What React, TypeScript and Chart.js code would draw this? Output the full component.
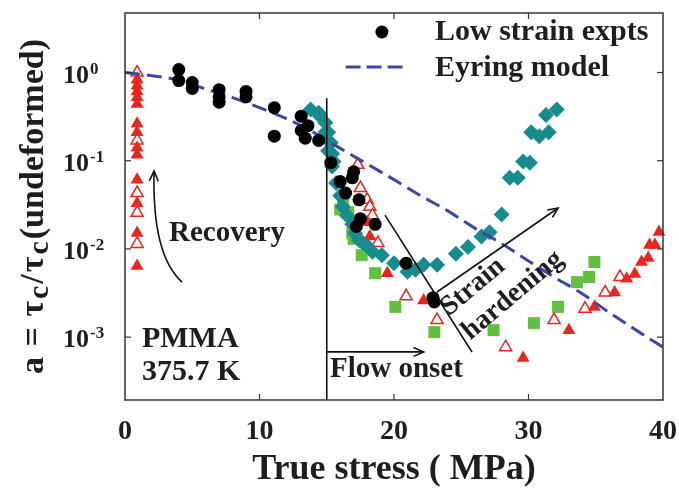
import React, { useEffect, useRef } from "react";
import { Chart, registerables } from "chart.js";

Chart.register(...registerables);

const FONT = "'Liberation Serif', 'Times New Roman', serif";
const INK = "#1e1e1e";
const RED = "#e8261f";
const TEAL = "#168c8c";
const GREEN = "#62c040";
const BLUE = "#3a46a8";

const xTickValues = [0, 10, 20, 30, 40];
const yDecades = [-3, -2, -1, 0];
const X_MIN = 0;
const X_MAX = 40;
const Y_MIN = Math.pow(10, -3.713);
const Y_MAX = Math.pow(10, 0.675);

// Low strain experiments (black circles)
const lowStrain: number[][] = [
  [4.0, 1.08], [4.0, 0.81], [5.0, 0.77], [5.0, 0.66], [7.0, 0.64], [7.0, 0.53], [7.0, 0.46],
  [9.0, 0.61], [9.0, 0.53], [11.1, 0.40], [11.1, 0.19], [13.1, 0.32], [13.6, 0.25], [13.1, 0.22],
  [13.4, 0.18], [14.4, 0.17], [15.3, 0.095], [16.0, 0.058], [17.0, 0.075], [16.9, 0.064],
  [16.4, 0.043], [17.4, 0.036], [17.5, 0.022], [17.2, 0.018], [18.6, 0.019], [20.9, 0.0069],
  [22.9, 0.0028], [23.0, 0.0025],
];

// Eyring model (dashed line)
const eyringX = [0, 2, 4, 6, 8, 10, 12, 14, 16, 18, 20, 22, 24, 26, 28, 30, 32, 34, 36, 38, 40];
const eyringY = [1.0, 0.92, 0.82, 0.65, 0.52, 0.40, 0.30, 0.21, 0.138, 0.092, 0.061, 0.040, 0.027,
  0.0172, 0.0115, 0.0073, 0.0047, 0.0031, 0.0019, 0.0012, 0.00077];

// Teal diamonds
const tealPts: number[][] = [
  [13.8, 0.38], [14.4, 0.35], [14.5, 0.32], [14.9, 0.27], [14.9, 0.21], [15.1, 0.21], [15.1, 0.13],
  [15.3, 0.16], [15.4, 0.12], [15.4, 0.086], [15.5, 0.098], [15.7, 0.056], [16.0, 0.040],
  [16.2, 0.030], [16.5, 0.024], [16.9, 0.019], [17.1, 0.015], [17.4, 0.0126], [17.7, 0.0117],
  [18.1, 0.0105], [18.4, 0.0093], [19.1, 0.0085], [20.0, 0.0069], [21.0, 0.0055], [21.6, 0.0058],
  [22.2, 0.0066], [23.2, 0.0066], [24.6, 0.0088], [25.5, 0.0105], [26.5, 0.0138], [27.1, 0.0155],
  [28.0, 0.0245], [28.6, 0.064], [29.2, 0.064], [29.6, 0.098], [30.1, 0.095], [30.2, 0.21],
  [30.8, 0.19], [31.5, 0.21], [31.3, 0.33], [32.1, 0.38],
];

// Green squares
const greenPts: number[][] = [
  [16.0, 0.028], [16.2, 0.033], [16.6, 0.026], [16.9, 0.015], [17.0, 0.013], [17.6, 0.0085],
  [18.6, 0.0053], [20.1, 0.0022], [23.0, 0.00114], [27.4, 0.0012], [30.4, 0.00144], [32.2, 0.0022],
  [33.6, 0.0042], [34.5, 0.0048], [34.9, 0.0071],
];

// Red filled triangles
const redFilledPts: number[][] = [
  [0.9, 0.83], [0.9, 0.71], [0.9, 0.61], [0.9, 0.52], [0.9, 0.44], [0.9, 0.263], [0.9, 0.21],
  [0.9, 0.14], [0.9, 0.117], [0.9, 0.061], [0.9, 0.033], [0.9, 0.0152], [0.9, 0.0064],
  [18.0, 0.020], [18.2, 0.0138], [19.5, 0.0053], [22.2, 0.0026], [29.6, 0.00058], [33.0, 0.0012],
  [34.9, 0.0022], [36.4, 0.0032], [37.3, 0.0046], [37.9, 0.0052], [38.4, 0.0071], [38.9, 0.0079],
  [39.0, 0.0111], [39.4, 0.0111], [39.7, 0.0156],
];

// Red open triangles
const redOpenPts: number[][] = [
  [0.9, 1.0], [0.9, 0.17], [0.9, 0.043], [0.9, 0.0257], [0.9, 0.0114], [17.3, 0.090], [17.5, 0.049],
  [18.0, 0.036], [18.2, 0.030], [18.4, 0.024], [18.8, 0.0117], [20.9, 0.0029], [23.2, 0.00156],
  [28.3, 0.00077], [31.9, 0.00156], [34.2, 0.0021], [35.7, 0.0032], [36.8, 0.0048],
];

const toXY = (pts: number[][]) => pts.map(([x, y]) => ({ x, y }));

function line(ctx: CanvasRenderingContext2D, x0: number, y0: number, x1: number, y1: number) {
  ctx.beginPath();
  ctx.moveTo(x0, y0);
  ctx.lineTo(x1, y1);
  ctx.stroke();
}

function arrowHead(ctx: CanvasRenderingContext2D, x0: number, y0: number, x1: number, y1: number) {
  const ang = Math.atan2(y1 - y0, x1 - x0);
  const L = 11;
  const s = 0.42;
  ctx.beginPath();
  ctx.moveTo(x1 - L * Math.cos(ang - s), y1 - L * Math.sin(ang - s));
  ctx.lineTo(x1, y1);
  ctx.lineTo(x1 - L * Math.cos(ang + s), y1 - L * Math.sin(ang + s));
  ctx.stroke();
}

const overlay = {
  id: "overlay",
  afterDraw(chart: any) {
    const { ctx, chartArea: a } = chart;
    const xs = chart.scales.x;
    const ys = chart.scales.y;
    const px = (v: number) => xs.getPixelForValue(v);
    const py = (v: number) => ys.getPixelForValue(v);
    ctx.save();
    ctx.setLineDash([]);

    // frame
    ctx.strokeStyle = "#333";
    ctx.lineWidth = 1.5;
    ctx.strokeRect(a.left, a.top, a.right - a.left, a.bottom - a.top);

    // inward ticks
    ctx.lineWidth = 1.2;
    const TL = 6;
    xTickValues.forEach((v) => {
      if (v <= X_MIN || v >= X_MAX) return;
      const X = px(v);
      line(ctx, X, a.bottom, X, a.bottom - TL);
      line(ctx, X, a.top, X, a.top + TL);
    });
    ys.ticks.forEach((t: any) => {
      const Y = py(t.value);
      line(ctx, a.left, Y, a.left + TL, Y);
      line(ctx, a.right, Y, a.right - TL, Y);
    });

    // y tick labels 10^n
    ctx.fillStyle = INK;
    ctx.textAlign = "left";
    ctx.textBaseline = "alphabetic";
    ys.ticks.forEach((t: any) => {
      const Y = py(t.value);
      const e = Math.round(Math.log10(t.value));
      ctx.font = `bold 26px ${FONT}`;
      const x0 = a.left - 62;
      ctx.fillText("10", x0, Y + 10);
      const w = ctx.measureText("10").width;
      ctx.font = `bold 17px ${FONT}`;
      ctx.fillText(String(e), x0 + w + 1, Y + 1);
    });

    // y axis title (rotated)
    ctx.save();
    ctx.translate(a.left - 82, (a.top + a.bottom) / 2 - 1);
    ctx.rotate(-Math.PI / 2);
    const pieces: [string, number, number][] = [
      ["a", 34, 0], [" = ", 34, 0], ["τ", 34, 0], ["c", 30, 5], ["/", 34, 0],
      ["τ", 34, 0], ["c", 30, 5], ["(undeformed)", 34, 0],
    ];
    let total = 0;
    const gap = 2;
    pieces.forEach(([s, f]) => {
      ctx.font = `bold ${f}px ${FONT}`;
      total += ctx.measureText(s).width + gap;
    });
    let u = -total / 2;
    pieces.forEach(([s, f, dy]) => {
      ctx.font = `bold ${f}px ${FONT}`;
      ctx.fillText(s, u, dy);
      u += ctx.measureText(s).width + gap;
    });
    ctx.restore();

    // legend
    ctx.fillStyle = "#000";
    ctx.beginPath();
    ctx.arc(px(19.1), py(2.88), 6.5, 0, Math.PI * 2);
    ctx.fill();
    ctx.save();
    ctx.strokeStyle = BLUE;
    ctx.lineWidth = 3;
    ctx.setLineDash([15, 6]);
    line(ctx, px(16.4), py(1.154), px(21.0), py(1.154));
    ctx.restore();
    ctx.fillStyle = INK;
    ctx.font = `bold 30px ${FONT}`;
    ctx.textBaseline = "middle";
    ctx.fillText("Low strain expts", px(23.05), py(2.88));
    ctx.fillText("Eyring model", px(23.05), py(1.13));

    // annotations
    ctx.textBaseline = "alphabetic";
    ctx.font = `bold 29px ${FONT}`;
    ctx.fillText("Recovery", px(3.27), py(0.0123));
    ctx.font = `bold 30px ${FONT}`;
    ctx.fillText("PMMA", px(1.26), py(7.7e-4));
    ctx.fillText("375.7 K", px(1.26), py(3.27e-4));
    ctx.font = `bold 29px ${FONT}`;
    ctx.fillText("Flow onset", px(15.24), py(3.53e-4));

    ctx.strokeStyle = "#111";
    ctx.lineWidth = 1.6;
    // flow onset vertical line
    line(ctx, px(15), py(0.51), px(15), a.bottom);
    // flow onset arrow
    line(ctx, px(15), py(6.8e-4), px(22.2), py(6.8e-4));
    arrowHead(ctx, px(15), py(6.8e-4), px(22.2), py(6.8e-4));
    // recovery curved arrow
    const r0 = [px(4.24), py(4.2e-3)];
    const rc = [px(2.0), py(8.5e-3)];
    const r1 = [px(2.16), py(0.0764)];
    ctx.beginPath();
    ctx.moveTo(r0[0], r0[1]);
    ctx.quadraticCurveTo(rc[0], rc[1], r1[0], r1[1]);
    ctx.stroke();
    arrowHead(ctx, rc[0], rc[1], r1[0], r1[1]);
    // strain hardening arrow
    line(ctx, px(23.2), py(3.25e-3), px(32.2), py(0.0291));
    arrowHead(ctx, px(23.2), py(3.25e-3), px(32.2), py(0.0291));
    // diagonal guide line
    line(ctx, px(19.33), py(0.0242), px(25.8), py(6.78e-4));

    // rotated "Strain hardening"
    ctx.save();
    ctx.translate(px(25.87), py(3.7e-3));
    ctx.rotate((-40 * Math.PI) / 180);
    ctx.font = `bold 28px ${FONT}`;
    ctx.textAlign = "center";
    ctx.textBaseline = "middle";
    ctx.fillText("Strain", 0, 0);
    ctx.fillText("hardening", 25, 32);
    ctx.restore();

    ctx.restore();
  },
};

export default function App() {
  const ref = useRef<HTMLCanvasElement | null>(null);
  useEffect(() => {
    if (!ref.current) return;
    const chart = new Chart(ref.current, {
      type: "scatter",
      data: {
        datasets: [
          {
            label: "Low strain expts",
            data: toXY(lowStrain),
            pointStyle: "circle",
            pointRadius: 6.5,
            backgroundColor: "#000",
            borderColor: "#000",
            borderWidth: 0,
            clip: false,
          } as any,
          {
            label: "Eyring model",
            data: eyringX.map((x, i) => ({ x, y: eyringY[i] })),
            showLine: true,
            pointRadius: 0,
            borderColor: BLUE,
            borderWidth: 3,
            borderDash: [15, 7],
            cubicInterpolationMode: "monotone",
          } as any,
          {
            label: "teal",
            data: toXY(tealPts),
            pointStyle: "rectRot",
            pointRadius: 8,
            backgroundColor: TEAL,
            borderColor: TEAL,
            borderWidth: 0,
            clip: false,
          } as any,
          {
            label: "red filled",
            data: toXY(redFilledPts),
            pointStyle: "triangle",
            pointRadius: 7.5,
            backgroundColor: RED,
            borderColor: RED,
            borderWidth: 0,
            clip: false,
          } as any,
          {
            label: "red open",
            data: toXY(redOpenPts),
            pointStyle: "triangle",
            pointRadius: 7,
            backgroundColor: "#fff",
            borderColor: RED,
            borderWidth: 1.5,
            clip: false,
          } as any,
          {
            label: "green",
            data: toXY(greenPts),
            pointStyle: "rect",
            pointRadius: 8.5,
            backgroundColor: GREEN,
            borderColor: GREEN,
            borderWidth: 0,
            clip: false,
          } as any,
        ],
      },
      options: {
        animation: false,
        responsive: false,
        events: [],
        layout: { padding: { top: 13, right: 16, left: 0, bottom: 0 } },
        plugins: { legend: { display: false }, tooltip: { enabled: false } },
        scales: {
          x: {
            type: "linear",
            min: X_MIN,
            max: X_MAX,
            grid: { display: false, drawTicks: false },
            border: { display: false },
            ticks: {
              padding: 0,
              color: INK,
              font: { family: FONT, size: 28, weight: "bold", lineHeight: 2.29 },
              autoSkip: false,
              maxRotation: 0,
            },
            afterBuildTicks: (s: any) => {
              s.ticks = xTickValues.map((v) => ({ value: v }));
            },
            title: {
              display: true,
              text: "True stress ( MPa)",
              color: INK,
              font: { family: FONT, size: 36, weight: "bold", lineHeight: 1 },
              padding: 0,
            },
            afterFit: (s: any) => {
              s.height = 88;
            },
          },
          y: {
            type: "logarithmic",
            min: Y_MIN,
            max: Y_MAX,
            grid: { display: false, drawTicks: false },
            border: { display: false },
            ticks: { display: false },
            afterBuildTicks: (s: any) => {
              s.ticks = yDecades.map((d) => ({ value: Math.pow(10, d) }));
            },
            afterFit: (s: any) => {
              s.width = 125;
            },
          },
        },
      } as any,
      plugins: [overlay],
    });
    return () => chart.destroy();
  }, []);

  return (
    <div style={{ position: "fixed", left: 0, top: 0, width: 679, height: 488 }}>
      <canvas ref={ref} width={679} height={488} style={{ display: "block", width: 679, height: 488 }} />
    </div>
  );
}
